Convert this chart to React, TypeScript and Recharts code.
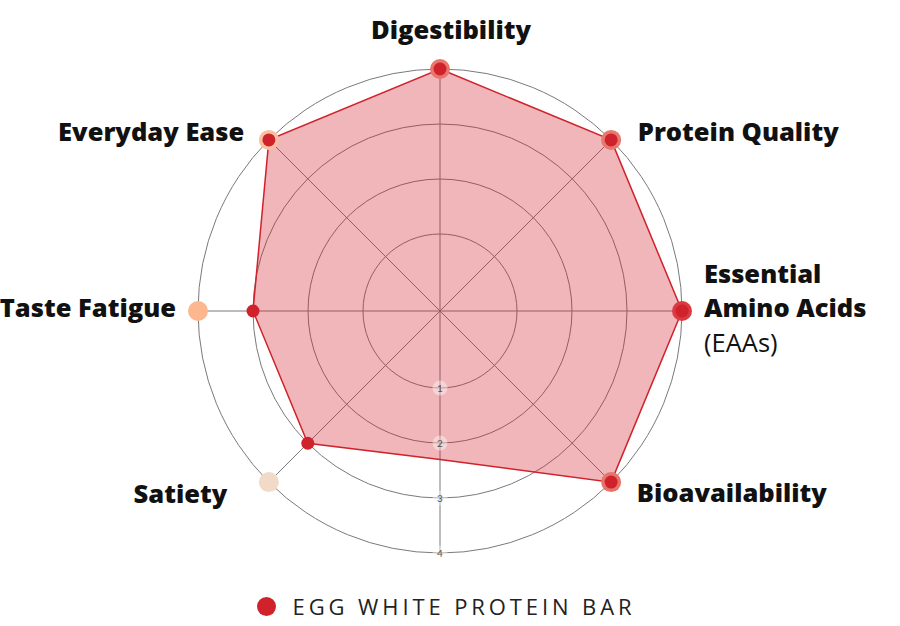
import React from "react";
import { Legend, PolarAngleAxis, PolarGrid, PolarRadiusAxis, Radar, RadarChart } from "recharts";

const CATEGORIES = [
  "Digestibility",
  "Protein Quality",
  "Essential Amino Acids (EAAs)",
  "Bioavailability",
  "",
  "Satiety",
  "Taste Fatigue",
  "Everyday Ease",
];
const BAR_SCORES = [4, 4, 4, 4, 2.3, 3, 3, 4];
const MARKER_SCORES = [4, 4, 4, 4, null, 4, 4, 4];
const MARKER_COLORS = ["#e9766d", "#e5786f", "#da3a40", "#e7746b", "none", "#f1dbc8", "#fcb78f", "#f9c1a1"];
const RADIUS_TICKS = [1, 2, 3, 4];
const SERIES_NAME = "EGG WHITE PROTEIN BAR";

const RED = "#d0222b";

const data = CATEGORIES.map((c, i) => ({ category: c, bar: BAR_SCORES[i], marker: MARKER_SCORES[i] }));

// nudges for the outer labels, keyed by category
const LABEL_POS: Record<string, { dx: number; dy: number; anchor: "start" | "middle" | "end" }> = {
  Digestibility: { dx: 11, dy: -32, anchor: "middle" },
  "Protein Quality": { dx: 21, dy: -3, anchor: "start" },
  "Essential Amino Acids (EAAs)": { dx: 14, dy: 0, anchor: "start" },
  Bioavailability: { dx: 20, dy: 4, anchor: "start" },
  Satiety: { dx: -36, dy: 5, anchor: "end" },
  "Taste Fatigue": { dx: -14, dy: -4, anchor: "end" },
  "Everyday Ease": { dx: -19, dy: -3, anchor: "end" },
};

const labelFont = { fontFamily: "'Open Sans', sans-serif", fontWeight: 800, fontSize: 25.5, fill: "#111" };

function AngleTick(props: any) {
  const { x, y, payload } = props;
  const label: string = payload.value;
  const pos = LABEL_POS[label];
  if (!pos) return <g />;
  if (label.startsWith("Essential")) {
    return (
      <text x={x + pos.dx} y={y} textAnchor="start" style={labelFont}>
        <tspan x={x + pos.dx} y={y - 28}>Essential</tspan>
        <tspan x={x + pos.dx} y={y + 6}>Amino Acids</tspan>
        <tspan x={x + pos.dx} y={y + 41} style={{ fontWeight: 400 }}>(EAAs)</tspan>
      </text>
    );
  }
  return (
    <text x={x + pos.dx} y={y + pos.dy} textAnchor={pos.anchor} dominantBaseline="central" style={labelFont}>
      {label}
    </text>
  );
}

function RadiusTick(props: any) {
  const { x, y, payload } = props;
  return (
    <g>
      <circle cx={x} cy={y} r={7.5} fill="#fff" fillOpacity={0.4} />
      <text x={x} y={y} textAnchor="middle" dominantBaseline="central" fontSize={10} fill="#555" fontFamily="Lato, sans-serif">
        {payload.value}
      </text>
    </g>
  );
}

function MarkerDot(props: any) {
  const { cx, cy, index } = props;
  const color = MARKER_COLORS[index];
  if (!CATEGORIES[index] || color === "none" || !Number.isFinite(cx)) return <g key={`m${index}`} />;
  return <circle key={`m${index}`} cx={cx} cy={cy} r={10} fill={color} />;
}

function BarDot(props: any) {
  const { cx, cy, index } = props;
  if (!CATEGORIES[index]) return <g key={`b${index}`} />;
  return <circle key={`b${index}`} cx={cx} cy={cy} r={6.5} fill={RED} />;
}

function LegendContent() {
  return (
    <div style={{ display: "flex", alignItems: "center", justifyContent: "center", width: 900, marginLeft: -4 }}>
      <span style={{ width: 19, height: 19, borderRadius: 10, background: RED, display: "inline-block", marginRight: 17 }} />
      <span style={{ fontFamily: "'Open Sans', sans-serif", fontSize: 22, letterSpacing: 3.9, color: "#222" }}>{SERIES_NAME}</span>
    </div>
  );
}

export default function App() {
  return (
    <div style={{ position: "absolute", left: 0, top: 0, width: 900, height: 626, background: "#fff" }}>
      <RadarChart width={900} height={626} data={data} cx={440} cy={311} outerRadius={242} margin={{ top: 0, right: 0, bottom: 0, left: 0 }}>
        <PolarGrid gridType="circle" stroke="#7a7a7a" strokeWidth={1} />
        <PolarAngleAxis dataKey="category" tick={<AngleTick />} tickLine={false} axisLine={false} />
        <PolarRadiusAxis angle={-90} domain={[-0.4, 4]} ticks={RADIUS_TICKS} tick={<RadiusTick />} axisLine={false} tickLine={false} />
        <Radar dataKey="marker" stroke="none" fill="none" dot={<MarkerDot />} isAnimationActive={false} legendType="none" />
        <Radar
          name={SERIES_NAME}
          dataKey="bar"
          stroke={RED}
          strokeWidth={1.5}
          fill={RED}
          fillOpacity={0.33}
          dot={<BarDot />}
          isAnimationActive={false}
        />
        <Legend content={<LegendContent />} wrapperStyle={{ left: 0, top: 591, width: 900 }} />
      </RadarChart>
    </div>
  );
}
